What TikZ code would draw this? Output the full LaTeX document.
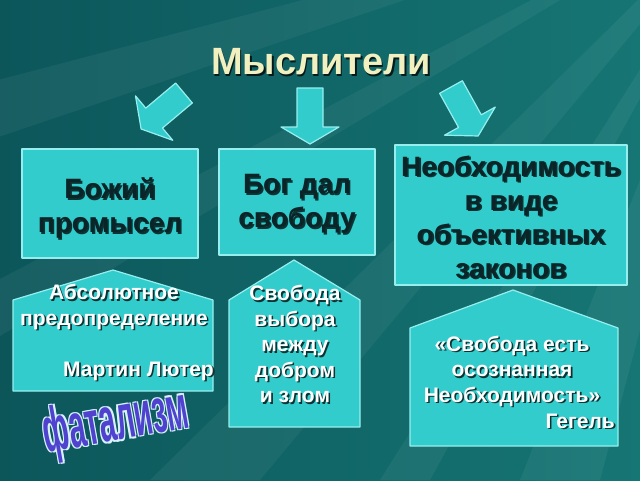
\documentclass[tikz,border=0pt]{standalone}
\usepackage{fontspec}
\usepackage{graphicx}
\setmainfont{Liberation Sans}

\definecolor{bgdark}{RGB}{12,86,90}
\definecolor{bglight}{RGB}{22,118,116}
\definecolor{panelfill}{RGB}{51,204,204}
\definecolor{paneledge}{RGB}{150,238,238}
\definecolor{darkink}{RGB}{10,36,40}
\definecolor{titleink}{RGB}{240,240,192}
\definecolor{fatalink}{RGB}{78,66,206}

\tikzset{
  panel/.style={fill=panelfill, draw=paneledge, line width=1.2pt, line join=round},
  boxword/.style={font=\bfseries\fontsize{28}{34}\selectfont, text=darkink, align=center, inner sep=0pt},
  houseword/.style={font=\bfseries\fontsize{21}{25.5}\selectfont, text=white, align=center, inner sep=0pt},
  titleword/.style={font=\bfseries\fontsize{38}{40}\selectfont, text=titleink, inner sep=0pt},
  fatalword/.style={rotate=10, inner sep=0pt, font=\bfseries\fontsize{34}{34}\selectfont},
  dropshade/.style={text=black, opacity=0.75, xshift=1.6pt, yshift=-1.6pt},
  ray/.style={fill=white, opacity=0.05}
}

% block arrow: back centre x, y, direction
\newcommand{\blockarrow}[3]{%
  \begin{scope}[shift={(#1,#2)}, rotate=#3]
    \draw[panel] (0,-13) -- (39,-13) -- (39,-29) -- (56,0)
      -- (39,29) -- (39,13) -- (0,13) -- cycle;
  \end{scope}}

\begin{document}
\begin{tikzpicture}[x=1pt, y=-1pt]
    % --- Background ---
    \useasboundingbox (0,0) rectangle (640,480);
    \shade[left color=bgdark, right color=bglight] (0,0) rectangle (640,480);
    \begin{scope}
        \clip (0,0) rectangle (640,480);
        \fill[ray] (760,-120) -- (150,480) -- (260,480) -- cycle;
        \fill[ray] (760,-120) -- (380,480) -- (430,480) -- cycle;
        \fill[ray] (760,-120) -- (-40,300) -- (-40,360) -- cycle;
        \fill[ray] (760,-120) -- (-40,90) -- (-40,150) -- cycle;
        \fill[ray] (760,-120) -- (520,480) -- (600,480) -- cycle;
        \fill[ray] (760,-120) -- (240,-10) -- (330,-10) -- cycle;
    \end{scope}

    % --- Title ---
    \node[titleword, dropshade] (titles) at (321,62) {Мыслители};
    \node[titleword] (title) at (321,62) {Мыслители};

    % --- Arrows ---
    \blockarrow{184}{93}{220}
    \blockarrow{310}{88}{-90}
    \blockarrow{451}{87}{-61}

    % --- Upper boxes ---
    \draw[panel] (22,149) rectangle (198,258);
    \draw[panel] (219,149) rectangle (375,255);
    \draw[panel] (395,145) rectangle (627,285);

    \node[boxword, dropshade] (gods) at (110,208) {Божий\\промысел};
    \node[boxword] (god) at (110,208) {Божий\\промысел};
    \node[boxword, dropshade] (gifts) at (297,204) {Бог дал\\свободу};
    \node[boxword] (gift) at (297,204) {Бог дал\\свободу};
    \node[boxword, dropshade] (needs) at (511,217) {Необходимость\\в виде\\объективных\\законов};
    \node[boxword] (need) at (511,217) {Необходимость\\в виде\\объективных\\законов};

    % --- Lower houses ---
    \draw[panel] (13,391) -- (13,300) -- (113,270) -- (213,300) -- (213,391) -- cycle;
    \draw[panel] (229,427) -- (229,300) -- (294,260) -- (360,300) -- (360,427) -- cycle;
    \draw[panel] (410,446) -- (410,328) -- (513,290) -- (618,328) -- (618,446) -- cycle;

    \node[houseword, dropshade] (fates) at (114,307) {Абсолютное\\предопределение};
    \node[houseword] (fate) at (114,307) {Абсолютное\\предопределение};
    \node[houseword, dropshade, anchor=east] (luthers) at (214,371) {Мартин Лютер};
    \node[houseword, anchor=east] (luther) at (214,371) {Мартин Лютер};

    \node[houseword, dropshade] (choices) at (295,344) {Свобода\\выбора\\между\\добром\\и злом};
    \node[houseword] (choice) at (295,344) {Свобода\\выбора\\между\\добром\\и злом};

    \node[houseword, dropshade] (quotes) at (512,371) {«Свобода есть\\осознанная\\Необходимость»};
    \node[houseword] (quote) at (512,371) {«Свобода есть\\осознанная\\Необходимость»};
    \node[houseword, dropshade, anchor=east] (hegels) at (615,421) {Гегель};
    \node[houseword, anchor=east] (hegel) at (615,421) {Гегель};

    % --- Word art ---
    \foreach \dx/\dy [count=\i] in {-1.2/-1.2, 1.2/1.2, -1.2/1.2, 1.2/-1.2}
        \node[fatalword, text=white!85!cyan] (fatalo\i) at (116+\dx,424+\dy)
            {\scalebox{0.87}[1.85]{фатализм}};
    \node[fatalword, text=fatalink] (fatal) at (116,424) {\scalebox{0.87}[1.85]{фатализм}};
\end{tikzpicture}
\end{document}
